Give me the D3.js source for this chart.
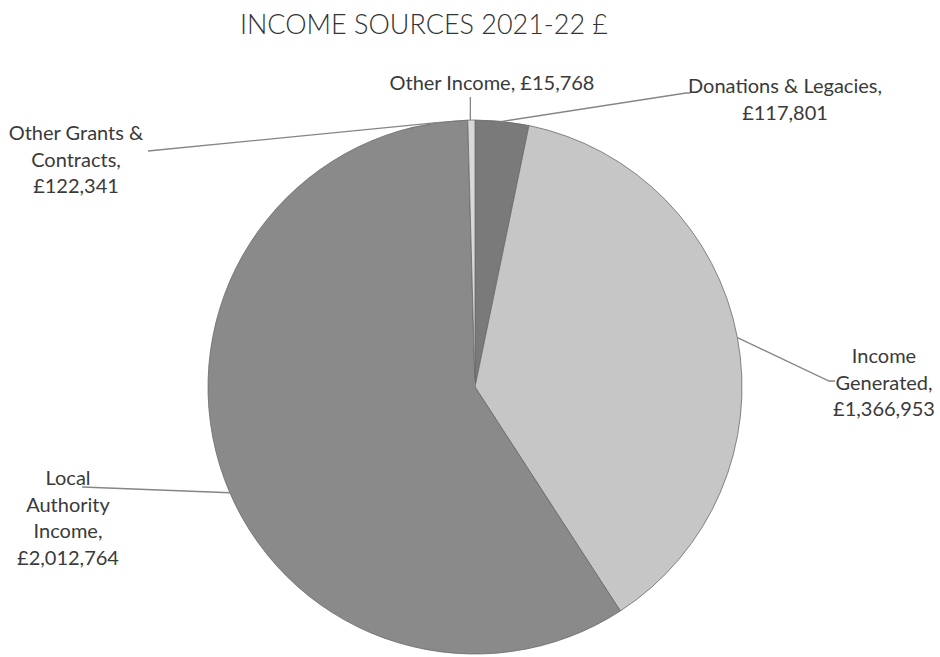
<!DOCTYPE html>
<html>
<head>
<meta charset="utf-8">
<script src="https://cdn.jsdelivr.net/npm/d3@7"></script>
<style>
  html, body { margin: 0; padding: 0; background: #fff; }
  svg { display: block; }
  text { font-family: Lato, "Open Sans", sans-serif; fill: #3a3a3a; }
</style>
</head>
<body>
<svg id="chart" width="940" height="657"></svg>
<script>
// ---- data ----
const title = "INCOME SOURCES 2021-22 £";
const categories = ["Donations & Legacies", "Income Generated", "Local Authority Income", "Other Grants & Contracts", "Other Income"];
const values = [117801, 1366953, 2012764, 122341, 15768];
const labelLines = [
  ["Donations & Legacies,", "£117,801"],
  ["Income", "Generated,", "£1,366,953"],
  ["Local", "Authority", "Income,", "£2,012,764"],
  ["Other Grants &", "Contracts,", "£122,341"],
  ["Other Income, £15,768"]
];
const sliceColors = ["#7a7a7a", "#c6c6c6", "#8a8a8a", "#8a8a8a", "#d8d8d8"];

// ---- layout (label placement, chosen by hand as in the original) ----
const labelLayout = [
  { x: 785, y: 93,  elbow: [686, 93] },
  { x: 884, y: 363, elbow: [829, 381] },
  { x: 68,  y: 485, elbow: [82, 487] },
  { x: 76,  y: 140, elbow: [148, 151] },
  { x: 492, y: 90,  elbow: null }
];

const svg = d3.select("#chart");
const cx = 475, cy = 387, r = 267;

svg.append("text")
  .attr("x", 424).attr("y", 34)
  .attr("text-anchor", "middle")
  .attr("textLength", 368)
  .attr("lengthAdjust", "spacingAndGlyphs")
  .style("font-size", "28px")
  .style("font-weight", 300)
  .style("fill", "#333")
  .text(title);

const data = categories.map((c, i) => ({ name: c, value: values[i], i }));
const pie = d3.pie().value(d => d.value).sort(null);
const arcs = pie(data);
const arc = d3.arc().innerRadius(0).outerRadius(r);

const g = svg.append("g").attr("transform", `translate(${cx},${cy})`);
g.selectAll("path.slice").data(arcs).join("path")
  .attr("class", "slice")
  .attr("d", arc)
  .attr("fill", d => sliceColors[d.data.i])
  .attr("stroke", "#6a6a6a")
  .attr("stroke-width", 0.8);

// the boundary between the two same-shade slices is not visible in the original
const og = arcs[3];
g.append("line")
  .attr("x1", 0).attr("y1", 0)
  .attr("x2", (r - 1.2) * Math.sin(og.startAngle))
  .attr("y2", -(r - 1.2) * Math.cos(og.startAngle))
  .attr("stroke", sliceColors[3])
  .attr("stroke-width", 2.4);

// leader lines and labels
const lh = 26.7;
arcs.forEach(a => {
  const i = a.data.i;
  const mid = (a.startAngle + a.endAngle) / 2;
  const px = cx + r * Math.sin(mid), py = cy - r * Math.cos(mid);
  const L = labelLayout[i];
  let pts;
  if (L.elbow) {
    const [ex, ey] = L.elbow;
    pts = [[px, py], [ex, ey]];
    if (i === 0) pts.push([ex + 4, ey]);
    if (i === 1) pts.push([ex + 6, ey]);
  } else {
    pts = [[px - 1, py], [px - 1, L.y + 7]];
  }
  svg.append("path")
    .attr("d", d3.line()(pts))
    .attr("fill", "none")
    .attr("stroke", "#858585")
    .attr("stroke-width", 1.3);

  const t = svg.append("text")
    .attr("text-anchor", "middle")
    .style("font-size", "20px");
  labelLines[i].forEach((s, k) => {
    t.append("tspan").attr("x", L.x).attr("y", L.y + k * lh).text(s);
  });
});
</script>
</body>
</html>
